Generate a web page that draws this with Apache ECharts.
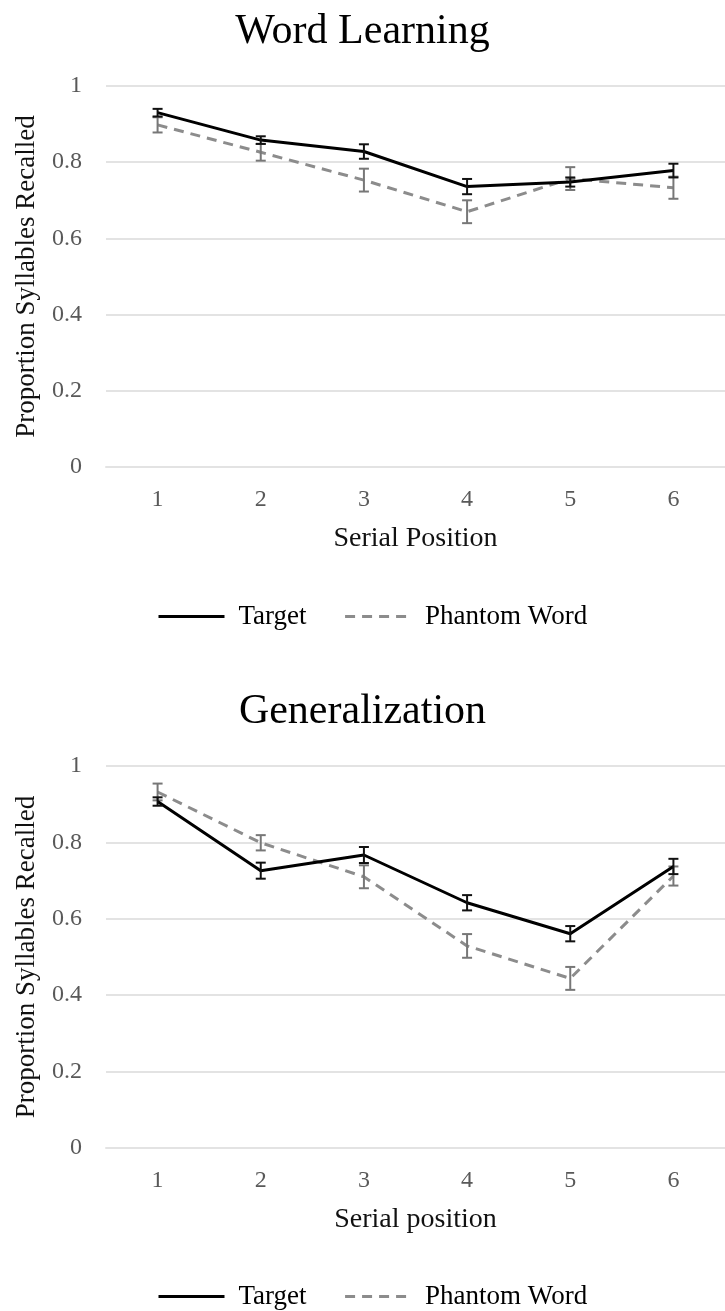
<!DOCTYPE html>
<html>
<head>
<meta charset="utf-8">
<script src="https://cdn.jsdelivr.net/npm/echarts@6/dist/echarts.min.js"></script>
<style>
html,body{margin:0;padding:0;background:#fff;}
#chart{width:725px;height:1311px;}
</style>
</head>
<body>
<div id="chart"></div>
<script>
// ---- data ----
const categories = ['1', '2', '3', '4', '5', '6'];
const titles = ['Word Learning', 'Generalization'];
const xAxisNames = ['Serial Position', 'Serial position'];
const yAxisName = 'Proportion Syllables Recalled';
const seriesNames = ['Target', 'Phantom Word'];

const wlTarget = [0.930, 0.858, 0.828, 0.736, 0.748, 0.778];
const wlTargetErr = [0.010, 0.010, 0.019, 0.020, 0.012, 0.018];
const wlPhantom = [0.898, 0.826, 0.753, 0.670, 0.757, 0.733];
const wlPhantomErr = [0.020, 0.022, 0.030, 0.030, 0.030, 0.029];

const genTarget = [0.907, 0.726, 0.767, 0.642, 0.561, 0.737];
const genTargetErr = [0.011, 0.021, 0.021, 0.020, 0.020, 0.020];
const genPhantom = [0.932, 0.799, 0.710, 0.529, 0.444, 0.712];
const genPhantomErr = [0.022, 0.020, 0.030, 0.031, 0.030, 0.025];

const yMin = 0, yMax = 1, yInterval = 0.2;

// ---- styles ----
const FONT = '"Liberation Serif", "Times New Roman", serif';
const TARGET_COLOR = '#000000';
const PHANTOM_COLOR = '#8c8c8c';
const TARGET_ERR_COLOR = '#111111';
const PHANTOM_ERR_COLOR = '#777777';
const GRID_COLOR = '#e3e3e3';

function errData(vals, errs) {
  return vals.map((v, i) => [i, v - errs[i], v + errs[i]]);
}

function errRender(color) {
  return function (params, api) {
    const x = api.value(0);
    const lo = api.coord([x, api.value(1)]);
    const hi = api.coord([x, api.value(2)]);
    const w = 5;
    const st = { stroke: color, lineWidth: 2 };
    return {
      type: 'group',
      children: [
        { type: 'line', shape: { x1: lo[0], y1: lo[1], x2: hi[0], y2: hi[1] }, style: st },
        { type: 'line', shape: { x1: lo[0] - w, y1: lo[1], x2: lo[0] + w, y2: lo[1] }, style: st },
        { type: 'line', shape: { x1: hi[0] - w, y1: hi[1], x2: hi[0] + w, y2: hi[1] }, style: st }
      ]
    };
  };
}

const grids = [
  { left: 106, width: 628, top: 86, height: 381 },
  { left: 106, width: 628, top: 766, height: 382 }
];

function xAxisFor(i) {
  return {
    type: 'category', gridIndex: i, data: categories, boundaryGap: true,
    axisLine: { show: true, lineStyle: { color: GRID_COLOR, width: 2 } },
    axisTick: { show: false },
    axisLabel: { color: '#595959', fontFamily: FONT, fontSize: 24, margin: 21 },
    name: xAxisNames[i], nameLocation: 'middle', nameGap: 58,
    nameTextStyle: { color: '#111', fontFamily: FONT, fontSize: 28 }
  };
}
function yAxisFor(i) {
  return {
    type: 'value', gridIndex: i, min: yMin, max: yMax, interval: yInterval,
    axisLine: { show: false }, axisTick: { show: false },
    splitLine: { show: true, lineStyle: { color: GRID_COLOR, width: 2 } },
    axisLabel: { color: '#595959', fontFamily: FONT, fontSize: 24, margin: 24 },
    name: yAxisName, nameLocation: 'middle', nameGap: 66, nameRotate: 90,
    nameTextStyle: { color: '#111', fontFamily: FONT, fontSize: 27 }
  };
}

function lineSeries(name, data, idx, color, dashed) {
  return {
    type: 'line', name: name, xAxisIndex: idx, yAxisIndex: idx, data: data,
    symbol: 'none', showSymbol: false, smooth: false,
    lineStyle: { color: color, width: 3, type: dashed ? [10, 7] : 'solid' },
    itemStyle: { color: color },
    z: dashed ? 2 : 4
  };
}
function errSeries(name, vals, errs, idx, color, z) {
  return {
    type: 'custom', name: name, xAxisIndex: idx, yAxisIndex: idx,
    data: errData(vals, errs), renderItem: errRender(color),
    encode: { x: 0, y: [1, 2] }, z: z, silent: true
  };
}

function legendAt(top) {
  return {
    data: seriesNames, left: 152, top: top, itemWidth: 66, itemHeight: 14, itemGap: 37,
    itemStyle: { color: 'rgba(0,0,0,0)', borderColor: 'rgba(0,0,0,0)', borderWidth: 0, opacity: 0 },
    lineStyle: { width: 3 },
    textStyle: { fontFamily: FONT, fontSize: 27, color: '#000', padding: [0, 0, 0, 9] }
  };
}

const option = {
  backgroundColor: '#ffffff',
  animation: false,
  title: [
    { text: titles[0], left: 'center', top: 6, textStyle: { fontFamily: FONT, fontSize: 42, fontWeight: 'normal', color: '#000' } },
    { text: titles[1], left: 'center', top: 686, textStyle: { fontFamily: FONT, fontSize: 42, fontWeight: 'normal', color: '#000' } }
  ],
  grid: grids,
  xAxis: [xAxisFor(0), xAxisFor(1)],
  yAxis: [yAxisFor(0), yAxisFor(1)],
  legend: [legendAt(598), legendAt(1278)],
  series: [
    lineSeries(seriesNames[1], wlPhantom, 0, PHANTOM_COLOR, true),
    errSeries(seriesNames[1], wlPhantom, wlPhantomErr, 0, PHANTOM_ERR_COLOR, 3),
    lineSeries(seriesNames[0], wlTarget, 0, TARGET_COLOR, false),
    errSeries(seriesNames[0], wlTarget, wlTargetErr, 0, TARGET_ERR_COLOR, 5),
    lineSeries(seriesNames[1], genPhantom, 1, PHANTOM_COLOR, true),
    errSeries(seriesNames[1], genPhantom, genPhantomErr, 1, PHANTOM_ERR_COLOR, 3),
    lineSeries(seriesNames[0], genTarget, 1, TARGET_COLOR, false),
    errSeries(seriesNames[0], genTarget, genTargetErr, 1, TARGET_ERR_COLOR, 5)
  ]
};

const chart = echarts.init(document.getElementById('chart'), null, { renderer: 'canvas' });
chart.setOption(option);
</script>
</body>
</html>
